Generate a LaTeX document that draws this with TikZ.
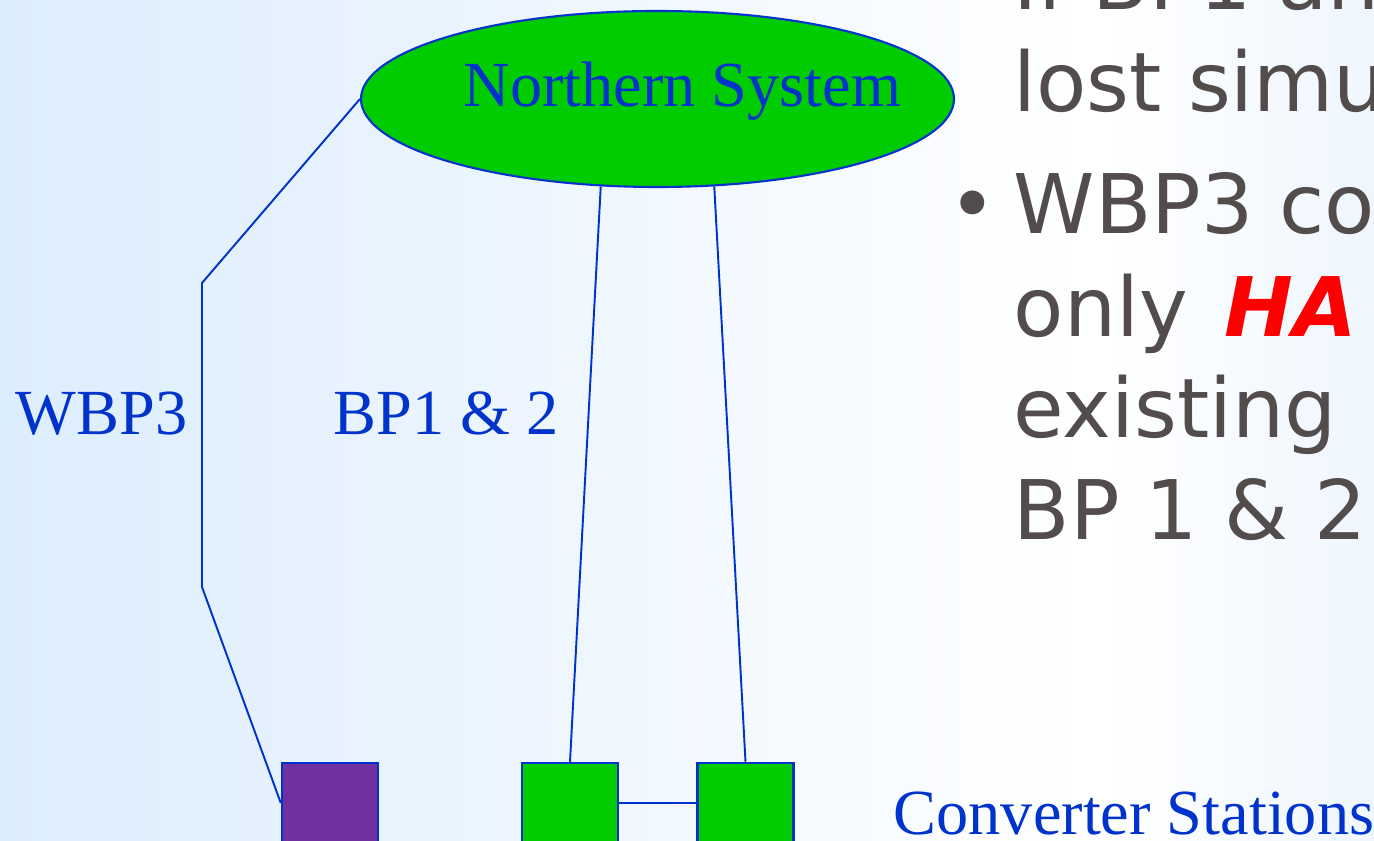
\documentclass[tikz,border=0pt]{standalone}
\usepackage{fontspec}
\setmainfont{Liberation Serif}
\newfontfamily\slidefont{DejaVu Sans}
\usetikzlibrary{shapes}
\definecolor{linkblue}{HTML}{0033CC}
\definecolor{stationgreen}{HTML}{00CC00}
\definecolor{stationpurple}{HTML}{7030A0}
\definecolor{slidegrey}{HTML}{524C4D}
\definecolor{bgblue}{HTML}{DCEDFD}
\definecolor{bgpale}{HTML}{EFF6FE}
\tikzstyle{link}=[draw=linkblue,line width=0.55pt]
\tikzstyle{stationbox}=[draw=linkblue,line width=0.7pt,minimum width=0.96cm,minimum height=0.8cm,inner sep=0pt]
\tikzstyle{systemellipse}=[ellipse,draw=linkblue,line width=0.6pt,fill=stationgreen,minimum width=5.93cm,minimum height=1.76cm,inner sep=0pt]
\tikzstyle{linklabel}=[anchor=base west,inner sep=0pt,text=linkblue,font=\fontsize{18.3}{22}\selectfont]
\tikzstyle{slidetext}=[anchor=base west,inner sep=0pt,text=slidegrey,font=\slidefont\fontsize{23.4}{28.7}\selectfont]
\begin{document}
\begin{tikzpicture}

\path[use as bounding box,clip] (0,0) rectangle (13.74,-8.41);
\shade[left color=bgblue,right color=white] (0,0) rectangle (11,-8.41);
\shade[left color=white,right color=bgpale] (11,0) rectangle (13.74,-8.41);

\node[systemellipse] (north) at (6.575,-0.99) {};
\node[linklabel] (northlabel) at (4.63,-1.07) {Northern System};

\node[stationbox,fill=stationpurple] (wbp3) at (3.30,-8.03) {};
\node[stationbox,fill=stationgreen] (bp1) at (5.70,-8.03) {};
\node[stationbox,fill=stationgreen] (bp2) at (7.455,-8.03) {};

\node[linklabel] (wbp3label) at (0.15,-4.35) {WBP3};
\node[linklabel] (bplabel) at (3.33,-4.35) {BP1 \& 2};
\node[linklabel] (stationlabel) at (8.93,-8.35) {Converter Stations};

\coordinate (wbpA) at (2.02,-2.83);
\coordinate (wbpB) at (2.02,-5.87);

\draw[link] (north.west) -- (wbpA) -- (wbpB) -- (wbp3.west);
\draw[link] (north.237) -- (bp1.north);
\draw[link] (north.303) -- (bp2.north);
\draw[link] (bp1.east) -- (bp2.west);

% slide text on the right
\node[slidetext] (line1) at (10.13,-0.10) {If BP1 an};
\node[slidetext] (line2) at (10.13,-1.12) {lost simu};
\node[slidetext] (bullet) at (9.48,-2.34) {•};
\node[slidetext] (line3) at (10.13,-2.34) {WBP3 co};
\node[slidetext] (line4) at (10.13,-3.37) {only\hspace{0.45em}\textcolor{red}{\bfseries\itshape HA}};
\node[slidetext] (line5) at (10.13,-4.38) {existing};
\node[slidetext] (line6) at (10.13,-5.40) {BP 1 \& 2};

\end{tikzpicture}
\end{document}
